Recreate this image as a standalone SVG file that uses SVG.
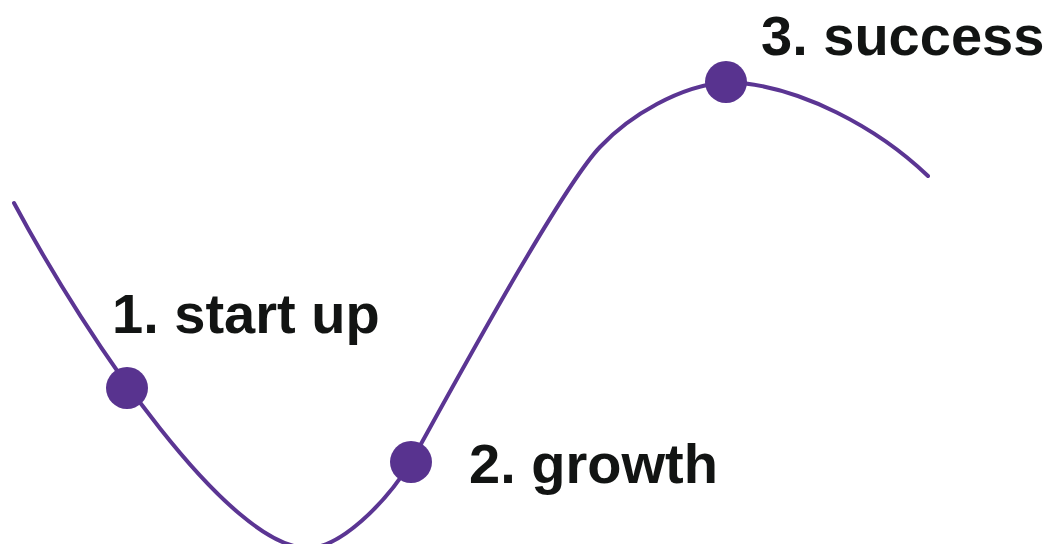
<svg xmlns="http://www.w3.org/2000/svg" width="1050" height="544" viewBox="0 0 1050 544">
<style>
.curve{fill:none;stroke:#5b3593;stroke-width:4;stroke-linecap:round;stroke-linejoin:round}
.dot{fill:#58338f}
.lbl{font-family:"Liberation Sans",Arial,sans-serif;font-weight:bold;font-size:56px;fill:#121413}
</style>
<rect width="1050" height="544" fill="#ffffff"/>
<g id="connectors">
<path class="curve" d="M14,203 C90,345 230,548 308,548 C340,548 385,504 411,462 C450,392 560,189 600,147 C630,115 680,86 726,82 C800,84 880,130 928,176"/>
</g>
<g id="node-startup">
<circle class="dot" cx="127" cy="388" r="21"/>
<text class="lbl" x="112" y="333">1. start up</text>
</g>
<g id="node-growth">
<circle class="dot" cx="411" cy="462" r="21"/>
<text class="lbl" x="469" y="483">2. growth</text>
</g>
<g id="node-success">
<circle class="dot" cx="726" cy="82" r="21"/>
<text class="lbl" x="761" y="55">3. success</text>
</g>
</svg>
